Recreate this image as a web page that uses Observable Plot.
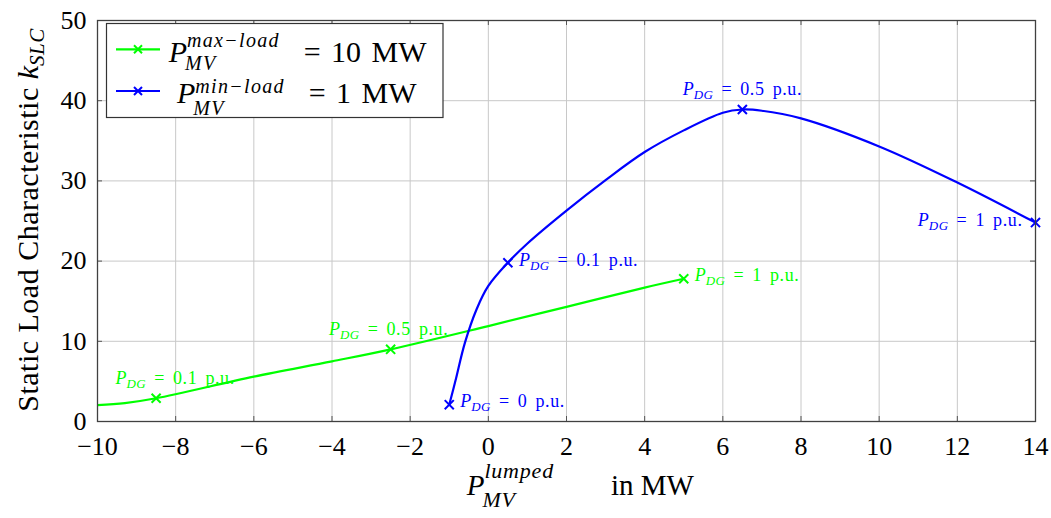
<!DOCTYPE html>
<html><head><meta charset="utf-8">
<script src="https://cdn.jsdelivr.net/npm/d3@7"></script>
<script src="https://cdn.jsdelivr.net/npm/@observablehq/plot@0.6"></script>
<style>
body{margin:0;background:#fff;}
#chart{width:1051px;height:518px;}
#chart svg, #chart svg text, #chart svg tspan{font-family:"Liberation Serif","DejaVu Serif","Times New Roman",serif !important;}
</style></head><body><div id="chart"></div>
<script>
// ---------- data ----------
const xTicks = [-10, -8, -6, -4, -2, 0, 2, 4, 6, 8, 10, 12, 14];
const yTicks = [0, 10, 20, 30, 40, 50];

// P_MV^max-load = 10 MW (green)
const maxLoadX = [-10, -9.3, -8.5, -6, -4, -2.5, 0, 2, 4, 5];
const maxLoadY = [2.05, 2.3, 2.9, 5.6, 7.5, 9.0, 11.9, 14.3, 16.7, 17.8];
const maxLoadMarkX = [-8.5, -2.5, 5];
const maxLoadMarkY = [2.9, 9.0, 17.8];
const maxLoadLabels = ["0.1", "0.5", "1"];

// P_MV^min-load = 1 MW (blue)
const minLoadX = [-1, -0.84, -0.6, -0.3, 0, 0.5, 1, 2, 3, 4, 5, 6, 6.5, 7, 8, 10, 12, 14];
const minLoadY = [2.1, 5.1, 9.8, 14.0, 16.9, 19.8, 22.2, 26.3, 30.1, 33.6, 36.3, 38.5, 38.9, 38.75, 37.8, 34.3, 29.8, 24.8];
const minLoadMarkX = [-1, 0.5, 6.5, 14];
const minLoadMarkY = [2.1, 19.8, 38.9, 24.8];
const minLoadLabels = ["0", "0.1", "0.5", "1"];

// ---------- styling / layout ----------
const FONT = '"Liberation Serif","DejaVu Serif",serif';
const GREEN = "#00ff00", BLUE = "#0000ff";
const LBL = 18;
const greenLabelLayout = [
  {dx: 19, dy: -20.5, anchor: "middle"},
  {dx: -2, dy: -19.6, anchor: "middle"},
  {dx: 11, dy: -3.3, anchor: "start"}
];
const blueLabelLayout = [
  {dx: 11, dy: -3.3, anchor: "start"},
  {dx: 11, dy: -2, anchor: "start"},
  {dx: 0, dy: -19.8, anchor: "middle"},
  {dx: -13, dy: -2.8, anchor: "end"}
];

const green = maxLoadX.map((x, i) => ({x, y: maxLoadY[i]}));
const blue = minLoadX.map((x, i) => ({x, y: minLoadY[i]}));
const greenMarks = maxLoadMarkX.map((x, i) => ({x, y: maxLoadMarkY[i], v: "PDG|" + maxLoadLabels[i]}));
const blueMarks = minLoadMarkX.map((x, i) => ({x, y: minLoadMarkY[i], v: "PDG|" + minLoadLabels[i]}));

const labelMarks = [];
greenMarks.forEach((d, i) => {
  const L = greenLabelLayout[i];
  labelMarks.push(Plot.text([d], {x: "x", y: "y", text: "v", fill: GREEN, fontSize: LBL,
    textAnchor: L.anchor, dx: L.dx, dy: L.dy}));
});
blueMarks.forEach((d, i) => {
  const L = blueLabelLayout[i];
  labelMarks.push(Plot.text([d], {x: "x", y: "y", text: "v", fill: BLUE, fontSize: LBL,
    textAnchor: L.anchor, dx: L.dx, dy: L.dy}));
});

const W = 1051, H = 518, mL = 97, mR = 16, mT = 20, mB = 97;
const innerW = W - mL - mR, innerH = H - mT - mB;

const svg = Plot.plot({
  width: W, height: H,
  marginLeft: mL, marginRight: mR, marginTop: mT, marginBottom: mB,
  style: {fontFamily: FONT, fontSize: "26px", background: "white", color: "#000", overflow: "visible"},
  x: {domain: [-10, 14], label: null},
  y: {domain: [0, 50], label: null},
  marks: [
    Plot.gridX(xTicks, {stroke: "#c8c8c8", strokeOpacity: 1, strokeWidth: 1}),
    Plot.gridY(yTicks, {stroke: "#c8c8c8", strokeOpacity: 1, strokeWidth: 1}),
    Plot.tickX(xTicks, {x: d => d, stroke: "#555", insetTop: innerH - 5}),
    Plot.tickX(xTicks, {x: d => d, stroke: "#555", insetBottom: innerH - 5}),
    Plot.tickY(yTicks, {y: d => d, stroke: "#555", insetRight: innerW - 5}),
    Plot.tickY(yTicks, {y: d => d, stroke: "#555", insetLeft: innerW - 5}),
    Plot.axisX(xTicks, {tickSize: 0, tickPadding: 15.5, fontSize: 26, label: null}),
    Plot.axisY(yTicks, {tickSize: 0, tickPadding: 11, fontSize: 26, label: null}),
    Plot.line(green, {x: "x", y: "y", stroke: GREEN, strokeWidth: 2.2, curve: "catmull-rom", clip: true}),
    Plot.line(blue, {x: "x", y: "y", stroke: BLUE, strokeWidth: 2.2, curve: "catmull-rom", clip: true}),
    Plot.dot(greenMarks, {x: "x", y: "y", symbol: "times", r: 4.2, stroke: GREEN, strokeWidth: 2}),
    Plot.dot(blueMarks, {x: "x", y: "y", symbol: "times", r: 4.2, stroke: BLUE, strokeWidth: 2}),
    ...labelMarks,
    Plot.frame({stroke: "#404040", strokeWidth: 1.3})
  ]
});
svg.setAttribute("font-family", FONT);
document.getElementById("chart").appendChild(svg);

// ---------- rich text helpers ----------
function rich(sel, parts) {
  sel.text(null).style("white-space", "pre");
  const spans = [];
  for (const p of parts) {
    const s = sel.append("tspan").text(p.t);
    if (p.it) s.attr("font-style", "italic");
    if (p.size) s.attr("font-size", p.size);
    if (p.dy != null) s.attr("dy", p.dy);
    if (p.dx != null) s.attr("dx", p.dx);
    if (p.x != null) s.attr("x", p.x);
    if (p.ls != null) s.attr("letter-spacing", p.ls);
    if (p.ws != null) s.attr("word-spacing", p.ws);
    spans.push(s);
  }
  return spans;
}

const root = d3.select(svg);

// P_DG labels
root.selectAll("text").each(function() {
  const s = this.textContent;
  if (s.startsWith("PDG|")) {
    const v = s.slice(4);
    rich(d3.select(this), [
      {t: "P", it: true, size: LBL},
      {t: "DG", it: true, size: 13, dy: 4, ls: 0.4},
      {t: " = " + v + " p.u.", size: LBL, dy: -4, ls: 0.6, ws: 3}
    ]);
  }
});

// x-axis title
{
  const t = root.append("text").attr("y", 495).attr("fill", "#000").attr("text-anchor", "start");
  const sp = rich(t, [
    {t: "P", it: true, size: 29, x: 466.7},
    {t: "lumped", it: true, size: 22, dy: -17, ls: 0.8},
    {t: "MV", it: true, size: 22, dy: 29, ls: 0.8},
    {t: "in MW", size: 29, dy: -12, x: 611}
  ]);
  const supLen = sp[1].node().getComputedTextLength();
  sp[2].attr("dx", -supLen - 2);
}

// y-axis title
{
  const t = root.append("text").attr("transform", "translate(38,220) rotate(-90)")
    .attr("text-anchor", "middle").attr("fill", "#000");
  rich(t, [
    {t: "Static Load Characteristic ", size: 30, ls: 0.5},
    {t: "k", it: true, size: 30},
    {t: "SLC", it: true, size: 21, dy: 6, ls: 0.5}
  ]);
}

// legend
{
  const g = root.append("g");
  g.append("rect").attr("x", 106.5).attr("y", 23.5).attr("width", 336.5).attr("height", 94)
    .attr("fill", "white").attr("stroke", "#333").attr("stroke-width", 1.2);
  const entries = [
    {color: GREEN, ly: 49.3, base: 61.7, px: 168.7, sup: "max\u2212load", supDy: -15, subDy: 23.3, restX: 303.7, rest: "= 10 MW"},
    {color: BLUE, ly: 91, base: 103.3, px: 177, sup: "min\u2212load", supDy: -10.8, subDy: 22.5, restX: 308.7, rest: "= 1 MW"}
  ];
  for (const e of entries) {
    g.append("line").attr("x1", 116).attr("x2", 160).attr("y1", e.ly).attr("y2", e.ly)
      .attr("stroke", e.color).attr("stroke-width", 2.2);
    const s = 4;
    g.append("path").attr("d", `M${138 - s},${e.ly - s}L${138 + s},${e.ly + s}M${138 - s},${e.ly + s}L${138 + s},${e.ly - s}`)
      .attr("stroke", e.color).attr("stroke-width", 2);
    const t = g.append("text").attr("y", e.base).attr("fill", "#000").attr("text-anchor", "start");
    const sp = rich(t, [
      {t: "P", it: true, size: 30, x: e.px},
      {t: e.sup, it: true, size: 20, dy: e.supDy, ls: 1.3},
      {t: "MV", it: true, size: 20, dy: e.subDy, ls: 1.3},
      {t: e.rest, size: 30, dy: -(e.supDy + e.subDy), x: e.restX, ws: 3}
    ]);
    const supLen = sp[1].node().getComputedTextLength();
    sp[2].attr("dx", -supLen - 2);
  }
}
</script>
</body></html>
